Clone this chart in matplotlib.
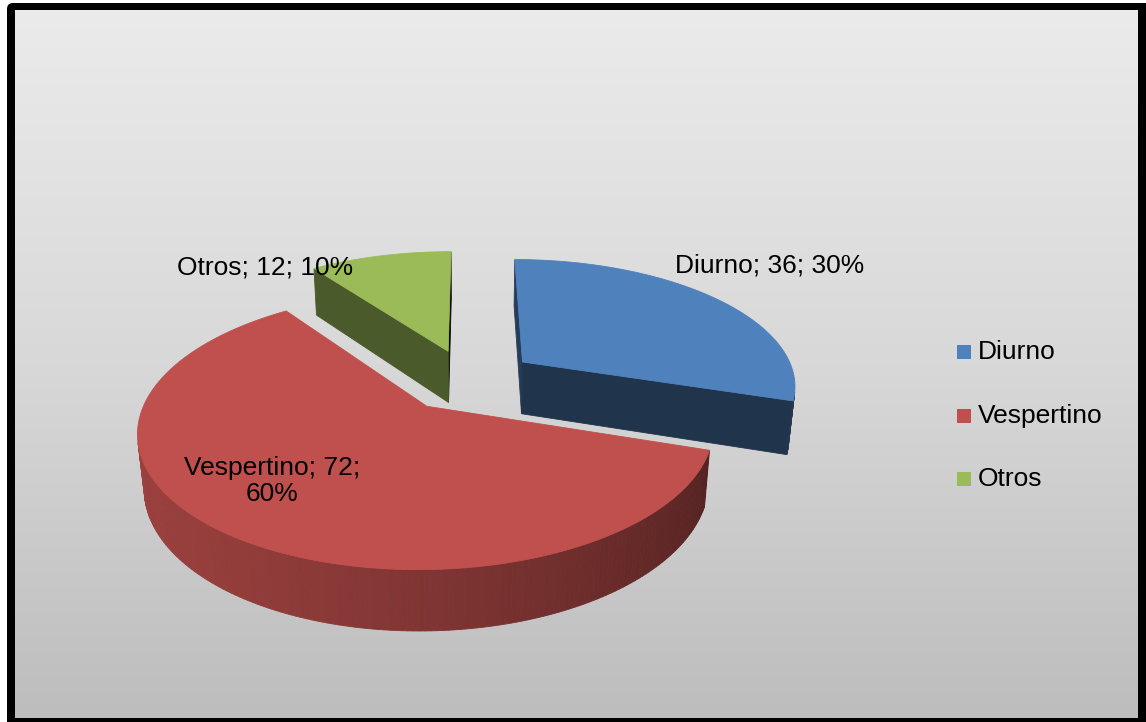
import numpy as np
import matplotlib
matplotlib.use("Agg")
import matplotlib.pyplot as plt
from matplotlib.patches import Polygon, Rectangle, FancyBboxPatch
from matplotlib.colors import LinearSegmentedColormap, to_rgb

# ---- data ----
categories = ["Diurno", "Vespertino", "Otros"]
values = [36, 72, 12]
slice_colors = ["#4F81BD", "#C0504D", "#9BBB59"]
wrap_label = [False, True, False]

# ---- canvas in pixel units ----
W, H = 1146, 722
fig = plt.figure(figsize=(W / 100, H / 100), dpi=100)
ax = fig.add_axes([0, 0, 1, 1])
ax.set_xlim(0, W)
ax.set_ylim(H, 0)
ax.axis("off")

# black frame and grey gradient plot area
ax.add_patch(FancyBboxPatch((7, 3), W, H + 10,
                            boxstyle="round,pad=0,rounding_size=6",
                            fc="black", ec="none", zorder=0))
bg = LinearSegmentedColormap.from_list("bg", ["#EBEBEB", "#D8D8D8", "#BDBDBD"])
ax.imshow(np.linspace(0, 1, 256).reshape(-1, 1), cmap=bg, aspect="auto",
          extent=[15, 1138, 718, 10], zorder=0.5, interpolation="bilinear")

# ---- 3D pie projection ----
CX, CY = 468.5, 380.0      # screen position of pie centre
G = 273.7                  # scale at centre depth
S, C = 0.4585, 0.891       # sin / cos of the view elevation
P = 0.17                   # perspective strength
T = 0.22                   # pie thickness (radius units)
E = 0.25                   # explosion distance
LIGHT = 200                # light direction (degrees, in the pie plane)


def proj(x, y, z):
    w = 1 + P * y - P * z * S / C
    return CX + G * x / w, CY - G * (y * S + z * C) / w


def shade(color, f):
    r, g, b = to_rgb(color)
    return (r * f, g * f, b * f)


def signed_area(pts):
    x = np.array([p[0] for p in pts])
    y = np.array([p[1] for p in pts])
    return 0.5 * np.sum(x * np.roll(y, -1) - np.roll(x, -1) * y)


total = sum(values)
fracs = [v / total for v in values]
starts = 90 - 360 * np.concatenate([[0], np.cumsum(fracs)[:-1]])
ends = starts - 360 * np.array(fracs)

slices = []
for i, (a0, a1) in enumerate(zip(starts, ends)):
    mid = np.radians((a0 + a1) / 2)
    ox, oy = E * np.cos(mid), E * np.sin(mid)
    slices.append((oy, i, a0, a1, ox))

# far slices first
for oy, i, a0, a1, ox in sorted(slices, key=lambda s: -s[0]):
    col = slice_colors[i]
    n = max(int(abs(a0 - a1)), 2) + 1
    th = np.radians(np.linspace(a0, a1, n))
    ring = [(ox, oy)] + [(ox + np.cos(t), oy + np.sin(t)) for t in th]
    top = [proj(x, y, 0) for x, y in ring]
    bot = [proj(x, y, -T) for x, y in ring]

    faces = []
    m = len(ring)
    for k in range(m):
        k2 = (k + 1) % m
        quad = [top[k], top[k2], bot[k2], bot[k]]
        if signed_area(quad) >= 0:
            continue
        if k == 0:            # cut face on the starting edge
            nrm = a0 + 90
            fc = shade(col, 0.257 + 0.232 * np.cos(np.radians(nrm - LIGHT)))
        elif k2 == 0:         # cut face on the closing edge
            nrm = a1 - 90
            fc = shade(col, 0.257 + 0.232 * np.cos(np.radians(nrm - LIGHT)))
        else:                 # rounded outer wall
            tm = np.degrees((th[k - 1] + th[k2 - 1]) / 2)
            fc = shade(col, 0.6 + 0.2 * np.cos(np.radians(tm - LIGHT)))
        depth = (ring[k][1] + ring[k2][1]) / 2
        faces.append((depth, quad, fc))
    for depth, quad, fc in sorted(faces, key=lambda f: -f[0]):
        ax.add_patch(Polygon(quad, closed=True, fc=fc, ec=fc, lw=0.6, zorder=2))
    ax.add_patch(Polygon(top, closed=True, fc=col, ec=col, lw=0.6, zorder=3))

# ---- data labels ----
font = dict(family="Liberation Sans", size=19, color="black")
label_pos = [(770, 265), (272, 481), (265, 267)]
for i, cat in enumerate(categories):
    pct = round(100 * values[i] / total)
    sep = ";\n" if wrap_label[i] else "; "
    txt = f"{cat}; {values[i]}{sep}{pct}%"
    ax.text(*label_pos[i], txt, ha="center", va="center", linespacing=1.13,
            zorder=5, **font)

# ---- legend ----
legend_y = [352, 416, 479]
for cat, col, y in zip(categories, slice_colors, legend_y):
    ax.add_patch(Rectangle((957, y - 7), 14, 14, fc=col, ec="none", zorder=5))
    ax.text(978, y, cat, ha="left", va="center", zorder=5, **font)

fig.savefig("out.png", dpi=100)
